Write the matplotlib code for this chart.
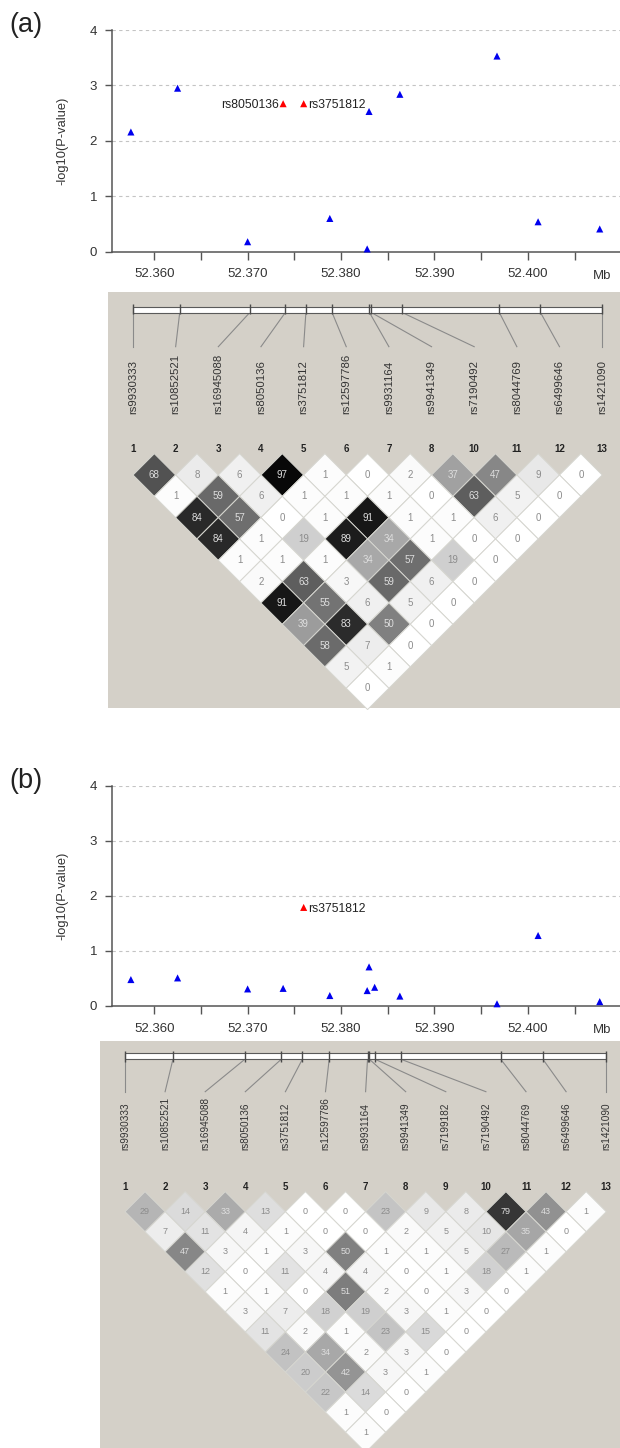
import matplotlib
matplotlib.use('Agg')
import matplotlib.pyplot as plt
from matplotlib.patches import Polygon, Rectangle
import numpy as np

plt.rcParams['font.family'] = ['Liberation Sans', 'DejaVu Sans']

# ---------------- data ----------------
snp_names = ['rs9930333', 'rs10852521', 'rs16945088', 'rs8050136', 'rs3751812',
             'rs12597786', 'rs9931164', 'rs9941349', 'rs7199182', 'rs7190492',
             'rs8044769', 'rs6499646', 'rs1421090']
snp_pos_mb = [52.3575, 52.3625, 52.3700, 52.3738, 52.3760, 52.3788, 52.3828,
              52.3830, 52.3836, 52.3863, 52.3967, 52.4011, 52.4077]

# panel (a): 12 SNPs (rs7199182 absent)
snps_a = ['rs9930333', 'rs10852521', 'rs16945088', 'rs8050136', 'rs3751812',
          'rs12597786', 'rs9931164', 'rs9941349', 'rs7190492', 'rs8044769',
          'rs6499646', 'rs1421090']
numbers_a = [1, 2, 3, 4, 5, 6, 7, 8, 10, 11, 12, 13]
logp_a = [2.16, 2.95, 0.18, 2.67, 2.67, 0.60, 0.05, 2.53, 2.84, 3.53, 0.54, 0.41]
highlight_a = ['rs8050136', 'rs3751812']

# panel (b): 13 SNPs
snps_b = snp_names
numbers_b = list(range(1, 14))
logp_b = [0.48, 0.51, 0.31, 0.32, 1.79, 0.19, 0.28, 0.71, 0.34, 0.18, 0.04, 1.28, 0.08]
highlight_b = ['rs3751812']

# LD r^2 (x100), rows by marker distance d = 1, 2, ...
ld_a = [
    [68, 8, 6, 97, 1, 0, 2, 37, 47, 9, 0],
    [1, 59, 6, 1, 1, 1, 0, 63, 5, 0],
    [84, 57, 0, 1, 91, 1, 1, 6, 0],
    [84, 1, 19, 89, 34, 1, 0, 0],
    [1, 1, 1, 34, 57, 19, 0],
    [2, 63, 3, 59, 6, 0],
    [91, 55, 6, 5, 0],
    [39, 83, 50, 0],
    [58, 7, 0],
    [5, 1],
    [0],
]
ld_b = [
    [29, 14, 33, 13, 0, 0, 23, 9, 8, 79, 43, 1],
    [7, 11, 4, 1, 0, 0, 2, 5, 10, 35, 0],
    [47, 3, 1, 3, 50, 1, 1, 5, 27, 1],
    [12, 0, 11, 4, 4, 0, 1, 18, 1],
    [1, 1, 0, 51, 2, 0, 3, 0],
    [3, 7, 18, 19, 3, 1, 0],
    [11, 2, 1, 23, 15, 0],
    [24, 34, 2, 3, 0],
    [20, 42, 3, 1],
    [22, 14, 0],
    [1, 0],
    [1],
]

x_ticks = [52.360, 52.365, 52.370, 52.375, 52.380, 52.385, 52.390, 52.395, 52.400, 52.405]
x_ticklabels = ['52.360', '', '52.370', '', '52.380', '', '52.390', '', '52.400', '']
y_ticks = [0, 1, 2, 3, 4]

# ---------------- layout helpers ----------------
W, H = 620, 1448
DPI = 100
fig = plt.figure(figsize=(W / DPI, H / DPI), dpi=DPI)
fig.patch.set_facecolor('white')


def px_axes(left, top, right, bottom):
    return fig.add_axes([left / W, 1 - bottom / H, (right - left) / W, (bottom - top) / H])


pos_lookup = dict(zip(snp_names, snp_pos_mb))


def scatter_panel(top, bottom, names, vals, highlight, label_sides, panel_label):
    ax = px_axes(112.3, top, 620, bottom)
    ax.set_xlim(52.35551, 52.40987)
    ax.set_ylim(0, 4)
    ax.set_facecolor('none')
    for s in ['top', 'right']:
        ax.spines[s].set_visible(False)
    for s in ['left', 'bottom']:
        ax.spines[s].set_color('#555555')
        ax.spines[s].set_linewidth(1.1)
    ax.set_xticks(x_ticks)
    ax.set_xticklabels(x_ticklabels)
    ax.set_yticks(y_ticks)
    ax.tick_params(axis='x', length=5.5, width=1.0, color='#555555', pad=6.5,
                   labelsize=9.5, labelcolor='#333333')
    ax.tick_params(axis='y', length=5.4, width=1.0, color='#555555', pad=5.5,
                   labelsize=9.5, labelcolor='#333333')
    for yv in y_ticks[1:]:
        ax.axhline(yv, color='#c4c4c4', lw=0.8, ls=(0, (3, 3)), zorder=0)
    xs = [pos_lookup[n] for n in names]
    cols = ['#ff0000' if n in highlight else '#0000ee' for n in names]
    ax.scatter(xs, vals, marker='^', s=26, c=cols, linewidths=0, clip_on=False, zorder=5)
    for n, side in zip(highlight, label_sides):
        i = names.index(n)
        dx = -3.1 if side == 'left' else 3.1
        ax.annotate(n, (xs[i], vals[i]), xytext=(dx, -1.2), textcoords='offset points',
                    ha='right' if side == 'left' else 'left', va='center',
                    fontsize=8.7, color='#222222')
    ax.annotate('Mb', xy=(52.40794, 0), xycoords=('data', 'axes fraction'),
                xytext=(0, -17.5), textcoords='offset points', ha='center', va='center',
                fontsize=9.5, color='#333333')
    fig.text(62.5 / W, 1 - ((top + bottom) / 2) / H, '-log10(P-value)', rotation=90,
             ha='center', va='center', fontsize=9.3, color='#333333')
    fig.text(25.8 / W, 1 - (top - 4.5) / H, panel_label, ha='center', va='center',
             fontsize=19.5, color='#222222')
    return ax


def ld_panel(bg_left, bg_top, bg_bottom, m1_px, step_px, y0_px, names, numbers, ld,
             bar_top, bar_bot, tick_top, tick_bot, line_end, name_bot, num_y,
             name_fs, cell_fs):
    ax = px_axes(bg_left, bg_top, 620, bg_bottom)
    n = len(names)
    u = lambda p: (p - y0_px) / step_px
    ax.set_xlim(1 - (m1_px - bg_left) / step_px, 1 + (620 - m1_px) / step_px)
    ax.set_ylim(u(bg_bottom), u(bg_top))
    ax.set_facecolor('#d4d0c8')
    ax.set_xticks([])
    ax.set_yticks([])
    for s in ax.spines.values():
        s.set_visible(False)

    pos = np.array([pos_lookup[nm] for nm in names])
    bx = 1 + (pos - pos[0]) / (pos[-1] - pos[0]) * (n - 1)
    idx = np.arange(1, n + 1)

    # physical map bar
    ax.add_patch(Rectangle((1, u(bar_top)), n - 1, u(bar_bot) - u(bar_top),
                           facecolor='white', edgecolor='#5a5a5a', lw=0.8, zorder=2))
    ax.vlines(bx, u(tick_top), u(tick_bot), color='#4a4a4a', lw=1.0, zorder=3)
    for b, i in zip(bx, idx):
        ax.plot([b, i], [u(bar_bot), u(line_end)], color='#8a8a8a', lw=0.8, zorder=1)
    for nm, i in zip(names, idx):
        ax.text(i, u(name_bot), nm, rotation=90, ha='center', va='bottom',
                fontsize=name_fs, color='#333333')
    for num, i in zip(numbers, idx):
        ax.text(i, u(num_y), str(num), ha='center', va='center', fontsize=7,
                fontweight='bold', color='#222222')

    # LD diamonds
    for d, row in enumerate(ld, start=1):
        for k, v in enumerate(row):
            i = k + 1
            j = i + d
            cx = (i + j) / 2.0
            cy = d / 2.0
            g = 1 - v / 100.0
            verts = [(cx, cy - 0.5), (cx + 0.5, cy), (cx, cy + 0.5), (cx - 0.5, cy)]
            ax.add_patch(Polygon(verts, closed=True, facecolor=(g, g, g),
                                 edgecolor='#d6d6d0', lw=0.7, clip_on=False, zorder=4))
            ax.text(cx, cy, str(v), ha='center', va='center', fontsize=cell_fs,
                    color='#dedede' if v >= 30 else '#8c8c8c', zorder=5)
    return ax


# ---------------- panel (a) ----------------
scatter_panel(30.0, 251.7, snps_a, logp_a, highlight_a, ['left', 'right'], '(a)')
ld_panel(108.3, 291.7, 708.3, 133.0, 42.65, 453.67, snps_a, numbers_a, ld_a,
         306.5, 312.5, 304.3, 313.7, 346.7, 414.3, 449.3, 8.2, 7.0)

# ---------------- panel (b) ----------------
scatter_panel(785.7, 1006.0, snps_b, logp_b, highlight_b, ['right'], '(b)')
ld_panel(100.1, 1040.5, 1448.0, 125.0, 40.1, 1191.65, snps_b, numbers_b, ld_b,
         1053.0, 1059.3, 1050.7, 1061.5, 1091.7, 1150.0, 1187.5, 7.2, 6.5)

fig.savefig('out.png', dpi=DPI, facecolor='white')
